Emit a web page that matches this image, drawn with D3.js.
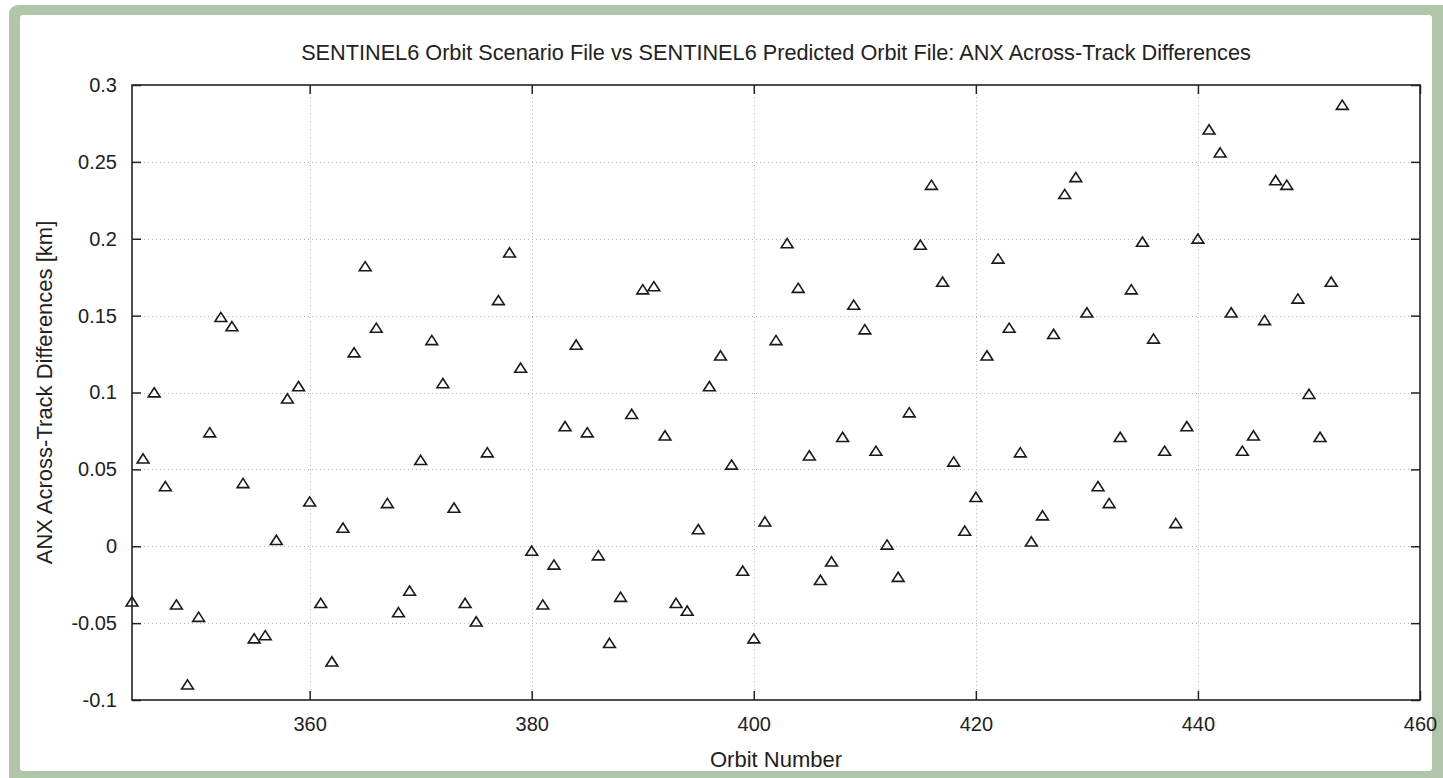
<!DOCTYPE html>
<html>
<head>
<meta charset="utf-8">
<script src="https://cdn.jsdelivr.net/npm/d3@7"></script>
<style>
  html, body { margin: 0; padding: 0; background: #ffffff; }
  svg { display: block; }
  text { font-family: "Liberation Sans", Arial, Helvetica, sans-serif; fill: #222; }
</style>
</head>
<body>
<script>
// ---- data ----
const orbitNumbers = [
  344,345,346,347,348,349,350,351,352,353,354,355,356,357,358,359,
  360,361,362,363,364,365,366,367,368,369,370,371,372,373,374,375,376,377,378,379,
  380,381,382,383,384,385,386,387,388,389,390,391,392,393,394,395,396,397,398,399,
  400,401,402,403,404,405,406,407,408,409,410,411,412,413,414,415,416,417,418,419,
  420,421,422,423,424,425,426,427,428,429,430,431,432,433,434,435,436,437,438,439,
  440,441,442,443,444,445,446,447,448,449,450,451,452,453
];
const acrossTrackDiff = [
  -0.036, 0.057, 0.100, 0.039, -0.038, -0.090, -0.046, 0.074, 0.149, 0.143, 0.041, -0.060, -0.058, 0.004, 0.096, 0.104,
  0.029, -0.037, -0.075, 0.012, 0.126, 0.182, 0.142, 0.028, -0.043, -0.029, 0.056, 0.134, 0.106, 0.025, -0.037, -0.049, 0.061, 0.160, 0.191, 0.116,
  -0.003, -0.038, -0.012, 0.078, 0.131, 0.074, -0.006, -0.063, -0.033, 0.086, 0.167, 0.169, 0.072, -0.037, -0.042, 0.011, 0.104, 0.124, 0.053, -0.016,
  -0.060, 0.016, 0.134, 0.197, 0.168, 0.059, -0.022, -0.010, 0.071, 0.157, 0.141, 0.062, 0.001, -0.020, 0.087, 0.196, 0.235, 0.172, 0.055, 0.010,
  0.032, 0.124, 0.187, 0.142, 0.061, 0.003, 0.020, 0.138, 0.229, 0.240, 0.152, 0.039, 0.028, 0.071, 0.167, 0.198, 0.135, 0.062, 0.015, 0.078,
  0.200, 0.271, 0.256, 0.152, 0.062, 0.072, 0.147, 0.238, 0.235, 0.161, 0.099, 0.071, 0.172, 0.287
];
const xDomain = [344, 460];
const yDomain = [-0.1, 0.3];
const xTickValues = [360, 380, 400, 420, 440, 460];
const yTickValues = [-0.1, -0.05, 0, 0.05, 0.1, 0.15, 0.2, 0.25, 0.3];
const yTickLabels = ["-0.1", "-0.05", "0", "0.05", "0.1", "0.15", "0.2", "0.25", "0.3"];
const titleText = "SENTINEL6 Orbit Scenario File vs SENTINEL6 Predicted Orbit File: ANX Across-Track Differences";
const xLabelText = "Orbit Number";
const yLabelText = "ANX Across-Track Differences [km]";

// ---- layout ----
const W = 1443, H = 778;
const plot = { left: 132, right: 1420, top: 85, bottom: 700 };

const svg = d3.select("body").append("svg").attr("width", W).attr("height", H);

// frame
svg.append("rect").attr("x", 9).attr("y", 5).attr("width", W + 20).attr("height", H + 20)
  .attr("rx", 9).attr("fill", "#b0c5a9");
svg.append("rect").attr("x", 20).attr("y", 15).attr("width", 1412).attr("height", 756)
  .attr("rx", 3).attr("fill", "#ffffff");

const x = d3.scaleLinear().domain(xDomain).range([plot.left, plot.right]);
const y = d3.scaleLinear().domain(yDomain).range([plot.bottom, plot.top]);

// grid
const grid = svg.append("g").attr("stroke", "#b5b5b5").attr("stroke-width", 1).attr("stroke-dasharray", "1,3");
grid.selectAll("line.v").data(xTickValues.filter(v => v > xDomain[0] && v < xDomain[1]))
  .join("line").attr("class", "v")
  .attr("x1", d => Math.round(x(d)) + 0.5).attr("x2", d => Math.round(x(d)) + 0.5)
  .attr("y1", plot.top).attr("y2", plot.bottom);
grid.selectAll("line.h").data(yTickValues.filter(v => v > yDomain[0] + 1e-9 && v < yDomain[1] - 1e-9))
  .join("line").attr("class", "h")
  .attr("y1", d => Math.round(y(d)) + 0.5).attr("y2", d => Math.round(y(d)) + 0.5)
  .attr("x1", plot.left).attr("x2", plot.right);

// axes
const tickLen = 9;
const fmtY = d => yTickLabels[yTickValues.findIndex(v => Math.abs(v - d) < 1e-9)];

const gB = svg.append("g").attr("transform", `translate(0,${plot.bottom})`)
  .call(d3.axisBottom(x).tickValues(xTickValues).tickSizeInner(-tickLen).tickSizeOuter(0).tickPadding(17));
const gT = svg.append("g").attr("transform", `translate(0,${plot.top})`)
  .call(d3.axisTop(x).tickValues(xTickValues).tickSizeInner(-tickLen).tickSizeOuter(0).tickFormat(""));
const gL = svg.append("g").attr("transform", `translate(${plot.left},0)`)
  .call(d3.axisLeft(y).tickValues(yTickValues).tickSizeInner(-tickLen).tickSizeOuter(0).tickPadding(15).tickFormat(fmtY));
const gR = svg.append("g").attr("transform", `translate(${plot.right},0)`)
  .call(d3.axisRight(y).tickValues(yTickValues).tickSizeInner(-tickLen).tickSizeOuter(0).tickFormat(""));

[gB, gT, gL, gR].forEach(g => {
  g.select(".domain").remove();
  g.selectAll(".tick line").attr("stroke", "#222").attr("stroke-width", 1.5);
  g.selectAll(".tick text").attr("font-size", 20).attr("fill", "#222")
    .attr("font-family", '"Liberation Sans", Arial, sans-serif');
});

// box
svg.append("rect").attr("x", plot.left).attr("y", plot.top)
  .attr("width", plot.right - plot.left).attr("height", plot.bottom - plot.top)
  .attr("fill", "none").attr("stroke", "#222").attr("stroke-width", 1.6);

// markers
const tri = "M0,-4.8L5.9,4.4L-5.9,4.4Z";
svg.append("g").selectAll("path").data(orbitNumbers.map((o, i) => [o, acrossTrackDiff[i]]))
  .join("path")
  .attr("d", tri)
  .attr("transform", d => `translate(${x(d[0])},${y(d[1])})`)
  .attr("fill", "none").attr("stroke", "#1a1a1a").attr("stroke-width", 1.6)
  .attr("stroke-linejoin", "miter");

// titles
svg.append("text").attr("x", (plot.left + plot.right) / 2).attr("y", 60)
  .attr("text-anchor", "middle").attr("font-size", 21.7).text(titleText);
svg.append("text").attr("x", (plot.left + plot.right) / 2).attr("y", 767)
  .attr("text-anchor", "middle").attr("font-size", 22).text(xLabelText);
svg.append("text").attr("transform", `translate(52,${(plot.top + plot.bottom) / 2}) rotate(-90)`)
  .attr("text-anchor", "middle").attr("font-size", 22).text(yLabelText);
</script>
</body>
</html>
